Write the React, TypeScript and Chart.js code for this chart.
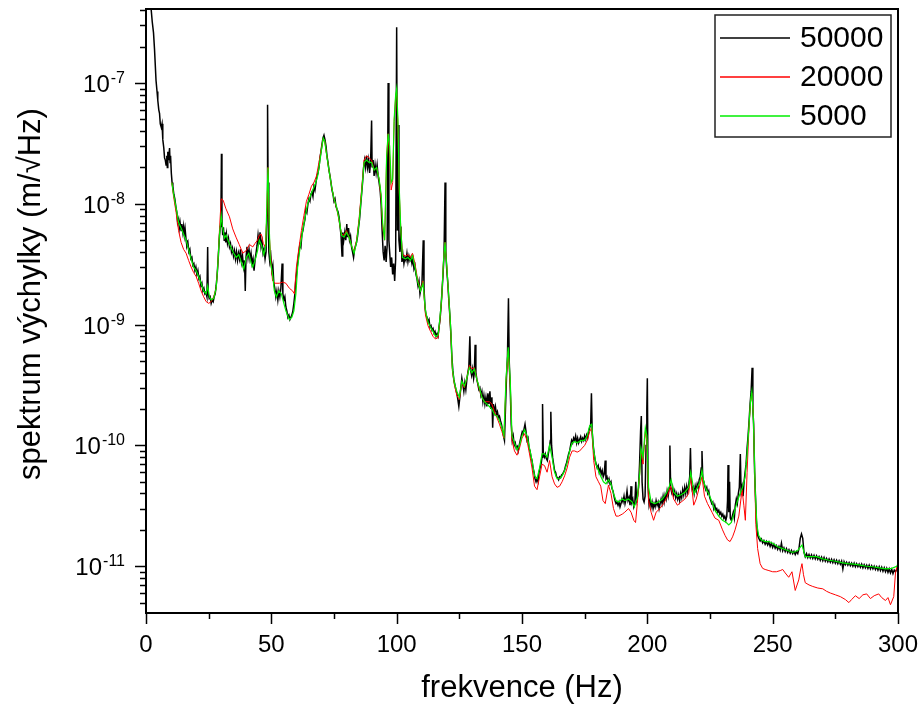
import React, { useEffect, useRef } from "react";
import { Chart, registerables } from "chart.js";

Chart.register(...registerables);

const FONT = "'Liberation Sans', Arial, sans-serif";

const seriesNames = ["50000", "20000", "5000"];
const seriesColors = ["#000000", "#ff0000", "#00ee00"];

const xTitle = "frekvence (Hz)";
const yTitle = "spektrum výchylky (m/√Hz)";

// x range (Hz) and y range (m/sqrt(Hz))
const xTickLabels = [0, 50, 100, 150, 200, 250, 300];
const yDecades = [-11, -10, -9, -8, -7];

// 50000 – frequency (Hz), amplitude
const s50000: [number, number][] = [
  [0.5, 1.2e-6], [1.2, 6.5e-7], [2, 4.2e-7], [2.5, 3.2e-7], [3, 2.6e-7], [3.4, 1.9e-7], [4, 1.05e-7], [4.4, 8.5e-8],
  [4.7, 7.2e-8], [5.1, 6.0e-8], [5.4, 5.6e-8], [5.7, 4.6e-8], [6.1, 4.3e-8], [6.4, 4.6e-8], [6.7, 3.4e-8], [7.1, 2.9e-8],
  [7.4, 2.4e-8], [7.7, 2.3e-8], [8.0, 2.1e-8], [8.3, 2.5e-8], [8.5, 2.0e-8], [8.7, 2.7e-8], [9.0, 2.3e-8], [9.4, 2.9e-8],
  [9.6, 2.2e-8], [9.8, 2.5e-8], [10.1, 1.8e-8], [10.4, 1.5e-8], [10.7, 1.4e-8], [11.1, 1.2e-8], [11.5, 1.1e-8], [11.9, 9.5e-9],
  [12.3, 8.5e-9], [12.6, 7.0e-9], [13.0, 7.5e-9], [13.3, 6.3e-9], [13.6, 7.0e-9], [14.0, 6.0e-9], [14.3, 6.8e-9], [14.7, 5.8e-9],
  [15.0, 6.5e-9], [15.3, 5.5e-9], [15.6, 6.2e-9], [16.0, 5.0e-9], [16.3, 4.5e-9], [16.7, 4.8e-9], [17.1, 4.0e-9], [17.5, 4.2e-9],
  [17.9, 3.5e-9], [18.3, 3.6e-9], [18.7, 3.1e-9], [19.1, 3.2e-9], [19.5, 2.8e-9], [19.9, 3.0e-9], [20.3, 2.6e-9], [20.7, 2.8e-9],
  [21.1, 2.4e-9], [21.5, 2.5e-9], [21.9, 2.1e-9], [22.3, 2.2e-9], [22.7, 1.9e-9], [23.1, 2.0e-9], [23.5, 1.8e-9], [23.9, 1.85e-9],
  [24.3, 1.7e-9], [24.6, 4.4e-9], [24.8, 1.8e-9], [25.2, 1.65e-9], [25.6, 1.7e-9], [26, 1.5e-9], [26.4, 1.6e-9], [26.8, 1.55e-9],
  [27.2, 1.7e-9], [27.6, 1.8e-9], [28, 2.1e-9], [28.4, 2.6e-9], [28.8, 3.5e-9], [29.2, 5.0e-9], [29.6, 6.5e-9], [29.9, 8.5e-9],
  [30.1, 2.6e-8], [30.3, 7.5e-9], [30.6, 5.5e-9], [30.9, 6.4e-9], [31.2, 5.0e-9], [31.5, 5.8e-9], [31.8, 4.8e-9], [32.1, 5.6e-9],
  [32.5, 4.7e-9], [32.9, 5.2e-9], [33.3, 4.4e-9], [33.7, 4.7e-9], [34.1, 4.0e-9], [34.5, 4.3e-9], [34.9, 3.7e-9], [35.3, 4.1e-9],
  [35.7, 3.5e-9], [36.1, 4.0e-9], [36.5, 3.4e-9], [36.9, 3.9e-9], [37.3, 3.5e-9], [37.7, 4.2e-9], [38.1, 3.3e-9], [38.5, 3.7e-9],
  [38.9, 3.0e-9], [39.3, 3.4e-9], [39.6, 1.9e-9], [39.9, 3.6e-9], [40.3, 4.4e-9], [40.7, 3.6e-9], [41.1, 4.2e-9], [41.5, 3.5e-9],
  [41.9, 3.9e-9], [42.3, 3.2e-9], [42.7, 3.5e-9], [43.1, 2.8e-9], [43.5, 3.4e-9], [43.9, 3.9e-9], [44.3, 4.5e-9], [44.7, 5.5e-9],
  [45.1, 4.6e-9], [45.5, 5.8e-9], [45.9, 4.4e-9], [46.3, 4.9e-9], [46.7, 3.9e-9], [47.1, 4.2e-9], [47.5, 3.5e-9], [47.9, 4.0e-9],
  [48.3, 9.0e-9], [48.5, 6.6e-8], [48.7, 1.5e-8], [49.0, 4.0e-9], [49.4, 3.3e-9], [49.8, 3.7e-9], [50.2, 2.8e-9], [50.6, 3.1e-9],
  [51.0, 2.2e-9], [51.4, 2.0e-9], [51.8, 1.7e-9], [52.2, 1.9e-9], [52.6, 1.6e-9], [53.0, 1.9e-9], [53.4, 1.7e-9], [53.8, 2.0e-9],
  [54.3, 3.2e-9], [54.6, 1.8e-9], [55.0, 1.6e-9], [55.4, 1.7e-9], [55.8, 1.4e-9], [56.2, 1.3e-9], [56.6, 1.15e-9], [57.0, 1.2e-9],
  [57.4, 1.1e-9], [57.8, 1.15e-9], [58.2, 1.2e-9], [58.6, 1.3e-9], [59.0, 1.5e-9], [59.4, 1.8e-9], [59.8, 2.4e-9], [60.2, 2.8e-9],
  [60.6, 3.4e-9], [61.0, 4.0e-9], [61.4, 4.6e-9], [61.8, 4.4e-9], [62.2, 5.6e-9], [62.6, 6.0e-9], [63.0, 6.8e-9], [63.4, 7.4e-9],
  [63.8, 9.0e-9], [64.2, 8.5e-9], [64.6, 1.0e-8], [65.0, 1.1e-8], [65.4, 1.05e-8], [65.8, 1.2e-8], [66.2, 1.25e-8], [66.6, 1.15e-8],
  [67.0, 1.4e-8], [67.4, 1.3e-8], [67.8, 1.5e-8], [68.2, 1.7e-8], [68.6, 1.8e-8], [69.0, 2.0e-8], [69.4, 2.4e-8], [69.8, 2.7e-8],
  [70.2, 3.1e-8], [70.6, 3.5e-8], [71.0, 3.7e-8], [71.4, 3.4e-8], [71.8, 3.0e-8], [72.2, 2.5e-8], [72.6, 2.2e-8], [73.0, 1.9e-8],
  [73.4, 1.7e-8], [73.8, 1.5e-8], [74.2, 1.3e-8], [74.6, 1.2e-8], [75.0, 1.05e-8], [75.4, 1.1e-8], [75.8, 9.5e-9], [76.2, 9.0e-9],
  [76.6, 8.6e-9], [77.0, 7.8e-9], [77.4, 6.5e-9], [77.8, 5.5e-9], [78.2, 3.7e-9], [78.5, 5.8e-9], [78.9, 5.0e-9], [79.3, 5.8e-9],
  [79.7, 5.0e-9], [80.1, 6.8e-9], [80.4, 5.3e-9], [80.8, 6.3e-9], [81.2, 5.0e-9], [81.6, 5.4e-9], [82.0, 4.4e-9], [82.4, 4.0e-9],
  [82.8, 3.6e-9], [83.2, 4.2e-9], [83.6, 4.5e-9], [84.0, 4.8e-9], [84.4, 5.4e-9], [84.8, 6.4e-9], [85.2, 7.5e-9], [85.6, 9.5e-9],
  [86.0, 1.2e-8], [86.4, 1.5e-8], [86.8, 2.0e-8], [87.2, 2.3e-8], [87.6, 2.0e-8], [88.0, 2.5e-8], [88.4, 2.0e-8], [88.8, 2.3e-8],
  [89.2, 1.8e-8], [89.6, 2.2e-8], [90.0, 4.9e-8], [90.2, 2.0e-8], [90.6, 2.3e-8], [91.0, 1.7e-8], [91.4, 2.1e-8], [91.8, 1.8e-8],
  [92.2, 2.1e-8], [92.6, 1.7e-8], [93.0, 1.5e-8], [93.4, 1.3e-8], [93.8, 1.0e-8], [94.2, 6.0e-9], [94.6, 4.0e-9], [95.0, 3.4e-9],
  [95.4, 4.5e-9], [95.8, 3.3e-9], [96.2, 4.5e-9], [96.6, 1.0e-7], [96.9, 5.0e-9], [97.2, 4.0e-9], [97.6, 3.0e-9], [98.0, 3.6e-9],
  [98.4, 2.6e-9], [98.8, 3.2e-9], [99.2, 2.3e-9], [99.6, 3.5e-9], [100.0, 2.9e-7], [100.3, 6.0e-9], [100.6, 4.5e-8], [100.9, 5.0e-9],
  [101.3, 4.0e-9], [101.7, 6.5e-9], [102.1, 3.3e-9], [102.5, 3.8e-9], [102.9, 3.2e-9], [103.3, 3.6e-9], [103.7, 3.4e-9], [104.1, 3.9e-9],
  [104.5, 3.3e-9], [104.9, 3.7e-9], [105.3, 3.4e-9], [105.7, 3.6e-9], [106.1, 3.2e-9], [106.5, 3.5e-9], [106.9, 2.9e-9], [107.3, 3.1e-9],
  [107.7, 2.6e-9], [108.1, 2.4e-9], [108.5, 2.1e-9], [108.9, 2.3e-9], [109.3, 1.8e-9], [109.7, 2.0e-9], [110.1, 2.2e-9], [110.6, 5.0e-9],
  [110.9, 2.0e-9], [111.3, 1.4e-9], [111.7, 1.2e-9], [112.1, 1.15e-9], [112.5, 1.05e-9], [112.9, 1.1e-9], [113.3, 9.5e-10], [113.7, 9.8e-10],
  [114.1, 9.0e-10], [114.5, 9.3e-10], [114.9, 8.5e-10], [115.3, 8.8e-10], [115.7, 8.0e-10], [116.1, 8.4e-10], [116.5, 8.0e-10], [116.9, 9.5e-10],
  [117.3, 1.1e-9], [117.7, 1.4e-9], [118.1, 1.9e-9], [118.5, 2.6e-9], [118.9, 3.8e-9], [119.3, 1.5e-8], [119.6, 4.0e-9], [120.0, 2.8e-9],
  [120.4, 2.2e-9], [120.8, 1.6e-9], [121.2, 1.2e-9], [121.6, 8.5e-10], [122.0, 5.5e-10], [122.4, 4.2e-10], [122.8, 3.5e-10], [123.2, 3.2e-10],
  [123.6, 2.9e-10], [124.0, 2.7e-10], [124.4, 2.4e-10], [124.8, 2.1e-10], [125.2, 2.5e-10], [125.6, 3.0e-10], [126.0, 3.6e-10], [126.4, 3.2e-10],
  [126.8, 2.8e-10], [127.2, 3.3e-10], [127.6, 2.9e-10], [128.0, 3.5e-10], [128.4, 4.0e-10], [128.8, 4.5e-10], [129.2, 8.0e-10], [129.5, 4.2e-10],
  [129.9, 3.8e-10], [130.3, 4.3e-10], [130.7, 3.6e-10], [131.0, 4.0e-10], [131.3, 6.8e-10], [131.6, 4.0e-10], [132.0, 3.5e-10], [132.4, 3.2e-10],
  [132.8, 2.9e-10], [133.2, 3.0e-10], [133.6, 2.6e-10], [134.0, 2.8e-10], [134.4, 2.3e-10], [134.8, 2.6e-10], [135.2, 2.2e-10], [135.6, 2.5e-10],
  [136.0, 2.1e-10], [136.4, 2.7e-10], [136.8, 2.2e-10], [137.2, 2.8e-10], [137.6, 2.0e-10], [138.0, 2.5e-10], [138.3, 1.4e-10], [138.6, 2.2e-10],
  [139.0, 1.9e-10], [139.4, 2.1e-10], [139.8, 1.8e-10], [140.2, 1.9e-10], [140.6, 1.7e-10], [141.0, 1.75e-10], [141.4, 1.6e-10], [141.8, 1.5e-10],
  [142.2, 1.35e-10], [142.6, 1.2e-10], [143.0, 1.1e-10], [143.4, 2.0e-10], [143.8, 3.6e-10], [144.2, 5.5e-10], [144.6, 1.65e-9], [144.9, 5.0e-10],
  [145.3, 3.0e-10], [145.7, 1.5e-10], [146.1, 1.1e-10], [146.5, 1.2e-10], [146.9, 1.0e-10], [147.3, 1.05e-10], [147.7, 9.5e-11], [148.1, 9.8e-11],
  [148.5, 9.0e-11], [148.9, 1.0e-10], [149.3, 1.1e-10], [149.7, 1.2e-10], [150.1, 1.3e-10], [150.5, 1.25e-10], [150.9, 1.4e-10], [151.2, 1.5e-10],
  [151.6, 1.3e-10], [152.0, 1.1e-10], [152.4, 1.15e-10], [152.8, 9.5e-11], [153.2, 9.0e-11], [153.6, 8.0e-11], [154.0, 7.5e-11], [154.4, 6.5e-11],
  [154.8, 6.0e-11], [155.2, 5.3e-11], [155.6, 5.0e-11], [156.0, 5.3e-11], [156.4, 5.0e-11], [156.8, 6.0e-11], [157.2, 6.5e-11], [157.6, 7.0e-11],
  [158.0, 8.0e-11], [158.2, 2.2e-10], [158.5, 8.5e-11], [158.9, 8.0e-11], [159.3, 8.5e-11], [159.7, 7.8e-11], [160.1, 7.5e-11], [160.5, 8.5e-11],
  [160.9, 9.5e-11], [161.3, 1.1e-10], [161.5, 1.9e-10], [161.8, 1.0e-10], [162.2, 8.0e-11], [162.6, 7.0e-11], [163.0, 6.2e-11], [163.4, 6.0e-11],
  [163.8, 5.5e-11], [164.2, 5.4e-11], [164.6, 5.2e-11], [165.0, 5.5e-11], [165.4, 5.4e-11], [165.8, 5.7e-11], [166.2, 5.8e-11], [166.6, 6.0e-11],
  [167.0, 6.3e-11], [167.4, 6.8e-11], [167.8, 7.2e-11], [168.2, 7.8e-11], [168.6, 8.5e-11], [169.0, 9.0e-11], [169.4, 1.0e-10], [169.8, 1.1e-10],
  [170.2, 1.05e-10], [170.6, 1.15e-10], [171.0, 1.1e-10], [171.4, 1.2e-10], [171.8, 1.05e-10], [172.2, 1.15e-10], [172.6, 1.05e-10], [173.0, 1.12e-10],
  [173.4, 1.18e-10], [173.8, 1.08e-10], [174.2, 1.15e-10], [174.6, 1.1e-10], [175.0, 1.2e-10], [175.4, 1.12e-10], [175.8, 1.22e-10], [176.2, 1.15e-10],
  [176.6, 1.3e-10], [177.0, 1.4e-10], [177.4, 1.5e-10], [177.7, 2.7e-10], [178.0, 1.3e-10], [178.4, 1.0e-10], [178.8, 8.5e-11], [179.2, 7.5e-11],
  [179.6, 7.0e-11], [180.0, 6.5e-11], [180.4, 6.8e-11], [180.8, 6.0e-11], [181.2, 6.4e-11], [181.6, 5.8e-11], [182.0, 6.2e-11], [182.4, 5.5e-11],
  [182.8, 5.8e-11], [183.2, 7.5e-11], [183.5, 5.3e-11], [183.9, 5.5e-11], [184.3, 5.0e-11], [184.7, 5.3e-11], [185.1, 4.8e-11], [185.5, 5.0e-11],
  [185.9, 4.4e-11], [186.3, 4.2e-11], [186.7, 3.8e-11], [187.1, 3.5e-11], [187.5, 3.3e-11], [187.9, 3.4e-11], [188.3, 3.2e-11], [188.7, 3.4e-11],
  [189.1, 3.1e-11], [189.5, 3.3e-11], [189.9, 3.6e-11], [190.3, 3.4e-11], [190.7, 3.8e-11], [191.1, 3.3e-11], [191.5, 3.6e-11], [191.9, 4.2e-11],
  [192.3, 3.5e-11], [192.7, 3.7e-11], [193.1, 3.2e-11], [193.5, 4.6e-11], [193.8, 3.4e-11], [194.2, 3.6e-11], [194.6, 3.1e-11], [195.0, 3.3e-11],
  [195.4, 5.0e-11], [195.7, 3.5e-11], [196.1, 3.8e-11], [196.5, 4.5e-11], [196.9, 7.0e-11], [197.3, 1.3e-10], [197.6, 1.75e-10], [197.9, 5.0e-11],
  [198.3, 3.6e-11], [198.7, 3.4e-11], [199.1, 3.8e-11], [199.5, 1.0e-10], [199.8, 2.0e-10], [200.0, 3.6e-10], [200.3, 4.5e-11], [200.7, 3.2e-11],
  [201.1, 3.5e-11], [201.5, 3.1e-11], [201.9, 3.4e-11], [202.3, 3.0e-11], [202.7, 3.3e-11], [203.1, 3.1e-11], [203.5, 3.5e-11], [203.9, 3.2e-11],
  [204.3, 3.4e-11], [204.7, 3.0e-11], [205.1, 3.3e-11], [205.5, 3.6e-11], [205.9, 3.3e-11], [206.3, 3.8e-11], [206.7, 3.4e-11], [207.1, 3.9e-11],
  [207.5, 3.6e-11], [207.9, 4.2e-11], [208.3, 3.8e-11], [208.7, 4.4e-11], [209.0, 1.0e-10], [209.3, 4.5e-11], [209.7, 4.1e-11], [210.1, 4.5e-11],
  [210.5, 3.9e-11], [210.9, 4.2e-11], [211.3, 3.7e-11], [211.7, 4.0e-11], [212.1, 3.6e-11], [212.5, 3.9e-11], [212.9, 3.5e-11], [213.3, 4.0e-11],
  [213.7, 3.7e-11], [214.1, 4.3e-11], [214.5, 3.9e-11], [214.9, 4.5e-11], [215.3, 4.0e-11], [215.7, 4.6e-11], [216.1, 4.1e-11], [216.5, 4.7e-11],
  [216.9, 5.5e-11], [217.2, 9.5e-11], [217.5, 5.0e-11], [217.9, 4.3e-11], [218.3, 4.5e-11], [218.7, 4.0e-11], [219.1, 4.6e-11], [219.5, 4.2e-11],
  [219.9, 4.8e-11], [220.3, 4.5e-11], [220.7, 5.2e-11], [221.1, 5.5e-11], [221.5, 6.5e-11], [221.8, 9.0e-11], [222.1, 5.5e-11], [222.5, 5.0e-11],
  [222.9, 4.6e-11], [223.3, 4.3e-11], [223.7, 4.5e-11], [224.1, 4.0e-11], [224.5, 4.2e-11], [224.9, 3.7e-11], [225.3, 3.5e-11], [225.7, 3.3e-11],
  [226.1, 3.4e-11], [226.5, 3.0e-11], [226.9, 3.2e-11], [227.3, 2.9e-11], [227.7, 3.0e-11], [228.1, 2.8e-11], [228.5, 2.9e-11], [228.9, 2.7e-11],
  [229.3, 2.8e-11], [229.7, 2.6e-11], [230.1, 2.7e-11], [230.5, 2.5e-11], [230.9, 2.6e-11], [231.3, 2.4e-11], [231.7, 2.6e-11], [232.0, 3.5e-11],
  [232.2, 6.9e-11], [232.5, 2.8e-11], [232.8, 5.0e-11], [233.1, 2.5e-11], [233.5, 2.4e-11], [233.9, 2.6e-11], [234.3, 2.8e-11], [234.7, 2.5e-11],
  [235.1, 3.2e-11], [235.5, 3.6e-11], [235.9, 3.3e-11], [236.3, 4.0e-11], [236.7, 4.5e-11], [237.1, 8.5e-11], [237.4, 4.2e-11], [237.8, 4.6e-11],
  [238.2, 3.8e-11], [238.6, 5.0e-11], [239.0, 6.0e-11], [239.4, 7.0e-11], [239.8, 9.5e-11], [240.2, 1.2e-10], [240.6, 1.6e-10], [241.0, 2.2e-10],
  [241.4, 2.8e-10], [241.8, 4.4e-10], [242.1, 2.0e-10], [242.4, 1.5e-10], [242.8, 6.0e-11], [243.1, 4.0e-11], [243.5, 2.4e-11], [243.9, 1.9e-11],
  [244.0, 1.8e-11], [244.5, 1.7e-11], [245, 1.62e-11], [245.5, 1.68e-11], [246, 1.56e-11], [246.5, 1.63e-11], [247, 1.52e-11], [247.5, 1.6e-11],
  [248, 1.5e-11], [248.5, 1.58e-11], [249, 1.46e-11], [249.5, 1.55e-11], [250, 1.43e-11], [250.5, 1.52e-11], [251, 1.41e-11], [251.5, 1.48e-11],
  [252, 1.38e-11], [252.5, 1.46e-11], [253, 1.36e-11], [253.5, 1.55e-11], [254, 1.34e-11], [254.5, 1.42e-11], [255, 1.32e-11], [255.5, 1.4e-11],
  [256, 1.3e-11], [256.5, 1.37e-11], [257, 1.28e-11], [257.5, 1.35e-11], [258, 1.27e-11], [258.5, 1.33e-11], [259, 1.25e-11], [259.5, 1.32e-11],
  [260, 1.27e-11], [260.5, 1.4e-11], [261, 1.7e-11], [261.5, 1.85e-11], [262, 1.7e-11], [262.5, 1.3e-11], [263, 1.2e-11], [263.5, 1.27e-11],
  [264, 1.18e-11], [264.5, 1.25e-11], [265, 1.17e-11], [265.5, 1.24e-11], [266, 1.16e-11], [266.5, 1.23e-11], [267, 1.15e-11], [267.5, 1.22e-11],
  [268, 1.14e-11], [268.5, 1.2e-11], [269, 1.12e-11], [269.5, 1.19e-11], [270, 1.11e-11], [270.5, 1.18e-11], [271, 1.1e-11], [271.5, 1.16e-11],
  [272, 1.09e-11], [272.5, 1.15e-11], [273, 1.08e-11], [273.5, 1.14e-11], [274, 1.07e-11], [274.5, 1.13e-11], [275, 1.06e-11], [275.5, 1.12e-11],
  [276, 1.05e-11], [276.5, 1.11e-11], [277, 1.04e-11], [277.5, 1.1e-11], [278, 9.5e-12], [278.5, 1.09e-11], [279, 1.03e-11], [279.5, 1.08e-11],
  [280, 1.02e-11], [280.5, 1.07e-11], [281, 1.01e-11], [281.5, 1.06e-11], [282, 1.0e-11], [282.5, 1.06e-11], [283, 9.9e-12], [283.5, 1.05e-11],
  [284, 9.9e-12], [284.5, 1.04e-11], [285, 9.8e-12], [285.5, 1.04e-11], [286, 9.7e-12], [286.5, 1.03e-11], [287, 9.7e-12], [287.5, 1.02e-11],
  [288, 9.6e-12], [288.5, 1.02e-11], [289, 9.5e-12], [289.5, 1.01e-11], [290, 9.5e-12], [290.5, 1.0e-11], [291, 9.4e-12], [291.5, 9.9e-12],
  [292, 9.3e-12], [292.5, 9.9e-12], [293, 9.2e-12], [293.5, 9.8e-12], [294, 9.1e-12], [294.5, 9.7e-12], [295, 9.0e-12], [295.5, 9.6e-12],
  [296, 8.9e-12], [296.5, 9.5e-12], [297, 8.8e-12], [297.5, 9.4e-12], [298, 8.7e-12], [298.5, 9.3e-12], [299, 9.0e-12], [299.5, 9.4e-12],
  [300, 9.3e-12],
];

// 20000
const s20000: [number, number][] = [
  [10.3, 1.5e-8], [11, 1.15e-8], [12, 8.5e-9], [13, 6.0e-9], [14, 4.8e-9], [15, 4.2e-9], [16, 3.9e-9], [17, 3.4e-9],
  [18, 3.0e-9], [19, 2.7e-9], [20, 2.5e-9], [21, 2.2e-9], [22, 1.9e-9], [23, 1.7e-9], [24, 1.55e-9], [25, 1.5e-9],
  [26, 1.55e-9], [27, 1.7e-9], [28, 2.0e-9], [28.6, 3.0e-9], [29.3, 6.0e-9], [30, 1.1e-8], [30.8, 1.07e-8], [31.8, 9.2e-9],
  [33.3, 7.8e-9], [34.6, 6.2e-9], [35.9, 5.3e-9], [37.2, 4.6e-9], [38.6, 3.9e-9], [40, 4.1e-9], [41.3, 4.6e-9], [42.6, 4.4e-9],
  [43.5, 4.7e-9], [44.5, 5.0e-9], [45.2, 5.5e-9], [46, 5.6e-9], [46.8, 4.7e-9], [47.6, 4.4e-9], [48.2, 8.0e-9], [48.7, 2.0e-8],
  [49.2, 5.5e-9], [50, 3.0e-9], [50.5, 2.3e-9], [51.5, 2.2e-9], [53.2, 2.2e-9], [54.5, 2.25e-9], [55.8, 2.2e-9], [57.2, 2.0e-9],
  [58.5, 1.9e-9], [59.2, 1.8e-9], [60, 3.0e-9], [61, 4.3e-9], [62, 6.0e-9], [63, 8.0e-9], [64, 1.05e-8], [65, 1.2e-8],
  [66, 1.4e-8], [67, 1.5e-8], [68, 1.7e-8], [69, 2.2e-8], [70, 2.9e-8], [70.7, 3.5e-8], [71.3, 3.3e-8], [72, 2.6e-8],
  [73, 1.9e-8], [74, 1.4e-8], [75, 1.1e-8], [76, 9.3e-9], [77, 7.3e-9], [78, 5.6e-9], [79, 5.5e-9], [80, 6.0e-9],
  [81, 5.3e-9], [82, 4.5e-9], [83, 4.0e-9], [84, 5.0e-9], [85, 7.5e-9], [86, 1.3e-8], [87, 2.3e-8], [88, 2.5e-8],
  [89, 2.4e-8], [90, 2.3e-8], [91, 1.9e-8], [92, 2.0e-8], [93, 1.6e-8], [93.8, 1.1e-8], [94.4, 6.5e-9], [95.2, 5.0e-9],
  [96, 2.4e-8], [96.6, 3.8e-8], [97.2, 2.5e-8], [97.8, 1.3e-8], [98.4, 1.5e-8], [99, 4.8e-8], [99.6, 7.8e-8], [100, 8.5e-8],
  [100.5, 4.5e-8], [101, 1.3e-8], [101.6, 6.5e-9], [102.3, 3.8e-9], [103.5, 3.7e-9], [104.5, 3.8e-9], [105.5, 3.6e-9], [106.3, 3.9e-9],
  [107.3, 3.2e-9], [108.3, 2.4e-9], [109.5, 1.9e-9], [110.5, 2.3e-9], [111.5, 1.2e-9], [112.5, 9.8e-10], [113.5, 8.8e-10], [114.5, 8.0e-10],
  [115.5, 7.6e-10], [116.5, 7.8e-10], [117.2, 1.05e-9], [118, 1.7e-9], [118.7, 3.4e-9], [119.3, 4.8e-9], [120, 3.0e-9], [120.8, 1.6e-9],
  [121.6, 8.5e-10], [122.2, 4.2e-10], [123, 3.2e-10], [124, 2.6e-10], [125, 2.4e-10], [126, 3.3e-10], [127, 3.0e-10], [128, 3.6e-10],
  [129, 4.6e-10], [130, 4.3e-10], [131, 4.4e-10], [132, 3.5e-10], [133, 2.9e-10], [134, 2.5e-10], [135, 2.3e-10], [136, 2.3e-10],
  [137, 2.3e-10], [138, 2.2e-10], [139, 1.9e-10], [140, 1.7e-10], [141, 1.5e-10], [142, 1.3e-10], [142.8, 1.15e-10], [143.6, 3.3e-10],
  [144.5, 6.0e-10], [145.3, 3.2e-10], [146, 1.1e-10], [147, 9.0e-11], [148, 8.3e-11], [149, 9.5e-11], [150, 1.15e-10], [151, 1.25e-10],
  [152, 1.1e-10], [153, 8.5e-11], [154, 6.5e-11], [155, 4.6e-11], [156, 4.3e-11], [157, 5.5e-11], [158, 7.0e-11], [159, 6.8e-11],
  [160, 6.0e-11], [161, 7.5e-11], [162, 5.5e-11], [163, 4.8e-11], [164, 4.5e-11], [165, 4.6e-11], [166, 5.0e-11], [167, 5.6e-11],
  [168, 6.5e-11], [169, 8.0e-11], [170, 9.0e-11], [171, 9.0e-11], [172, 8.8e-11], [173, 9.0e-11], [174, 9.5e-11], [175, 1.0e-10],
  [176, 1.1e-10], [177, 1.3e-10], [177.8, 1.4e-10], [178.6, 7.5e-11], [179.5, 5.5e-11], [180.5, 5.0e-11], [181.4, 4.6e-11], [182.3, 3.5e-11],
  [183.2, 3.3e-11], [184.5, 4.7e-11], [185.5, 4.0e-11], [186.5, 3.0e-11], [187.5, 2.6e-11], [188.5, 2.6e-11], [190, 2.7e-11], [191, 2.8e-11],
  [192.5, 3.0e-11], [193.5, 2.8e-11], [194.6, 2.4e-11], [195.3, 2.3e-11], [196, 3.3e-11], [197, 6.0e-11], [197.5, 9.0e-11], [198.3, 7.0e-11],
  [199.2, 1.3e-10], [199.8, 1.1e-10], [200.5, 3.5e-11], [201.5, 2.8e-11], [202.5, 2.4e-11], [203.5, 2.8e-11], [205, 3.0e-11], [206.5, 3.3e-11],
  [208, 3.8e-11], [209.3, 4.6e-11], [210.5, 3.6e-11], [212, 3.2e-11], [213.5, 3.4e-11], [215, 3.6e-11], [216.5, 4.0e-11], [217.3, 5.5e-11],
  [218.5, 3.2e-11], [219.5, 3.6e-11], [220.5, 4.3e-11], [221.8, 5.5e-11], [222.8, 3.8e-11], [224, 3.3e-11], [225.8, 2.8e-11], [227, 2.5e-11],
  [228.5, 2.4e-11], [230, 2.0e-11], [231, 1.8e-11], [232, 1.65e-11], [233, 1.6e-11], [234, 1.75e-11], [235, 2.0e-11], [236.5, 2.6e-11],
  [237.8, 4.3e-11], [238.5, 3.2e-11], [239.1, 2.4e-11], [239.8, 6.0e-11], [240.6, 1.5e-10], [241.2, 2.3e-10], [241.7, 2.7e-10], [242.3, 1.8e-10],
  [242.8, 6.0e-11], [243.3, 2.2e-11], [244, 1.4e-11], [245, 1.05e-11], [246, 9.6e-12], [247, 9.4e-12], [248.5, 9.2e-12], [250, 9.0e-12],
  [251.5, 9.0e-12], [253, 9.2e-12], [254, 9.4e-12], [255, 8.8e-12], [256.4, 8.1e-12], [257.7, 9.0e-12], [259, 6.3e-12], [260.4, 7.7e-12],
  [261.2, 9.5e-12], [261.7, 1.05e-11], [262.3, 8.5e-12], [263, 7.3e-12], [264.5, 7.0e-12], [266, 6.8e-12], [268, 6.6e-12], [270, 6.5e-12],
  [271.5, 6.2e-12], [273, 6.0e-12], [275, 5.8e-12], [277, 5.6e-12], [279, 5.3e-12], [280.4, 5.0e-12], [281.5, 5.3e-12], [283, 5.7e-12],
  [284.5, 5.4e-12], [286, 5.8e-12], [287.5, 5.9e-12], [289, 5.4e-12], [290.5, 5.7e-12], [292.3, 5.9e-12], [293.5, 5.5e-12], [295, 5.2e-12],
  [296, 5.5e-12], [297, 4.8e-12], [298.3, 5.6e-12], [299, 8.8e-12], [299.6, 1.0e-11],
];

// 5000
const s5000: [number, number][] = [
  [10.3, 1.5e-8], [11, 1.2e-8], [12, 9.3e-9], [13, 7.0e-9], [14, 6.3e-9], [15, 5.6e-9], [16, 5.0e-9], [17, 4.2e-9],
  [18, 3.5e-9], [19, 3.0e-9], [20, 2.8e-9], [21, 2.5e-9], [22, 2.2e-9], [23, 1.9e-9], [24, 1.8e-9], [24.6, 2.1e-9],
  [25.3, 1.7e-9], [26, 1.6e-9], [27, 1.65e-9], [28, 2.0e-9], [28.6, 3.0e-9], [29.3, 5.5e-9], [30, 8.0e-9], [30.5, 6.5e-9],
  [31.3, 5.2e-9], [32, 5.5e-9], [33, 4.8e-9], [34, 4.3e-9], [35, 3.9e-9], [36, 3.6e-9], [37, 3.8e-9], [38, 3.3e-9],
  [39, 2.9e-9], [40, 3.6e-9], [41, 3.9e-9], [42, 3.2e-9], [42.6, 3.0e-9], [43.5, 3.4e-9], [44.5, 4.1e-9], [45.2, 5.0e-9],
  [46, 4.6e-9], [47, 3.8e-9], [47.8, 4.5e-9], [48.3, 1.2e-8], [48.7, 2.0e-8], [49.2, 6.0e-9], [49.6, 3.4e-9], [50.5, 2.6e-9],
  [51.2, 1.9e-9], [52, 1.7e-9], [53, 1.9e-9], [54, 1.8e-9], [55, 1.5e-9], [55.8, 1.3e-9], [57.2, 1.1e-9], [58.2, 1.15e-9],
  [59, 1.3e-9], [59.8, 1.8e-9], [60.5, 3.0e-9], [61.5, 4.4e-9], [62.5, 6.0e-9], [63.5, 7.8e-9], [64.5, 1.0e-8], [65.5, 1.15e-8],
  [66.5, 1.3e-8], [67.5, 1.45e-8], [68.5, 1.7e-8], [69.3, 2.2e-8], [70, 2.8e-8], [70.7, 3.5e-8], [71.3, 3.3e-8], [72, 2.6e-8],
  [73, 1.9e-8], [74, 1.4e-8], [75, 1.1e-8], [76, 9.5e-9], [77, 7.5e-9], [78, 5.5e-9], [79, 5.3e-9], [80, 5.8e-9],
  [81, 5.3e-9], [82, 4.5e-9], [83, 3.9e-9], [84, 4.8e-9], [85, 7.0e-9], [86, 1.2e-8], [87, 2.2e-8], [88, 2.3e-8],
  [89, 2.2e-8], [90, 2.2e-8], [91, 1.9e-8], [92, 2.0e-8], [93, 1.6e-8], [93.8, 1.2e-8], [94.4, 7.0e-9], [95.2, 5.0e-9],
  [96, 2.5e-8], [96.6, 3.8e-8], [97.2, 3.0e-8], [97.8, 1.5e-8], [98.4, 1.6e-8], [99, 5.0e-8], [99.6, 8.0e-8], [100, 9.0e-8],
  [100.5, 5.0e-8], [101, 1.4e-8], [101.6, 6.5e-9], [102.3, 3.6e-9], [103.5, 3.5e-9], [104.5, 3.6e-9], [105.5, 3.4e-9], [106.3, 3.7e-9],
  [107.3, 3.0e-9], [108.3, 2.3e-9], [109.5, 1.9e-9], [110.5, 2.2e-9], [111.5, 1.3e-9], [112.5, 1.05e-9], [113.5, 9.5e-10], [114.5, 8.8e-10],
  [115.5, 8.0e-10], [116.5, 8.2e-10], [117.2, 1.1e-9], [118, 1.7e-9], [118.7, 3.4e-9], [119.3, 4.8e-9], [120, 3.0e-9], [120.8, 1.7e-9],
  [121.6, 9.0e-10], [122.2, 4.4e-10], [123, 3.3e-10], [124, 2.8e-10], [125, 2.5e-10], [126, 3.4e-10], [127, 3.1e-10], [128, 3.6e-10],
  [129, 4.4e-10], [130, 4.0e-10], [131, 4.3e-10], [132, 3.5e-10], [133, 3.0e-10], [134, 2.5e-10], [135, 2.3e-10], [136, 2.2e-10],
  [137, 2.1e-10], [138, 2.0e-10], [139, 1.8e-10], [140, 1.75e-10], [141, 1.6e-10], [142, 1.4e-10], [142.8, 1.2e-10], [143.6, 3.5e-10],
  [144.5, 6.5e-10], [145.3, 3.5e-10], [146, 1.2e-10], [147, 1.05e-10], [148, 9.2e-11], [149, 1.0e-10], [150, 1.2e-10], [151, 1.35e-10],
  [152, 1.2e-10], [153, 9.5e-11], [154, 7.5e-11], [155, 5.6e-11], [156, 5.3e-11], [157, 6.5e-11], [158, 8.5e-11], [159, 8.5e-11],
  [160, 8.0e-11], [161, 1.0e-10], [162, 8.0e-11], [163, 6.0e-11], [164, 5.3e-11], [165, 5.3e-11], [166, 5.6e-11], [167, 6.2e-11],
  [168, 7.2e-11], [169, 9.0e-11], [170, 1.05e-10], [171, 1.08e-10], [172, 1.05e-10], [173, 1.08e-10], [174, 1.1e-10], [175, 1.1e-10],
  [176, 1.2e-10], [177, 1.45e-10], [177.8, 1.5e-10], [178.6, 9.0e-11], [179.5, 7.0e-11], [180.5, 6.2e-11], [181.5, 5.5e-11], [182.5, 5.0e-11],
  [183.5, 4.8e-11], [184.5, 5.2e-11], [185.5, 4.8e-11], [186.5, 4.0e-11], [187.5, 3.5e-11], [188.5, 3.4e-11], [190, 3.6e-11], [191, 3.5e-11],
  [192.5, 3.6e-11], [194, 3.4e-11], [194.8, 3.1e-11], [196, 3.7e-11], [197, 6.0e-11], [197.5, 9.5e-11], [198.3, 8.0e-11], [199.2, 1.4e-10],
  [199.8, 1.2e-10], [200.5, 4.5e-11], [201.5, 3.4e-11], [203, 3.3e-11], [204.5, 3.4e-11], [206, 3.6e-11], [207.5, 4.0e-11], [208.8, 4.6e-11],
  [209.5, 5.2e-11], [210.5, 4.1e-11], [212, 3.8e-11], [213.5, 3.9e-11], [215, 4.1e-11], [216.5, 4.5e-11], [217.3, 6.0e-11], [218, 5.0e-11],
  [218.7, 4.0e-11], [220, 4.5e-11], [221, 5.0e-11], [221.8, 6.2e-11], [222.5, 5.0e-11], [223.5, 4.3e-11], [224.5, 4.0e-11], [225.8, 3.4e-11],
  [227, 2.9e-11], [228.5, 2.6e-11], [230, 2.4e-11], [231.5, 2.3e-11], [232.5, 2.2e-11], [233.5, 2.3e-11], [234.5, 2.7e-11], [235.8, 3.4e-11],
  [237, 4.0e-11], [238, 4.5e-11], [239, 5.5e-11], [239.8, 8.5e-11], [240.6, 1.5e-10], [241.2, 2.4e-10], [241.7, 2.8e-10], [242.3, 1.7e-10],
  [243, 4.5e-11], [243.7, 2.2e-11], [244.4, 1.8e-11], [245.5, 1.65e-11], [247, 1.6e-11], [248.5, 1.6e-11], [250, 1.55e-11], [252, 1.45e-11],
  [254, 1.4e-11], [256, 1.35e-11], [258, 1.3e-11], [260, 1.35e-11], [261.7, 1.5e-11], [263, 1.2e-11], [265, 1.2e-11], [267.5, 1.2e-11],
  [270, 1.15e-11], [272.5, 1.12e-11], [275, 1.1e-11], [277.5, 1.07e-11], [280, 1.05e-11], [282.5, 1.04e-11], [285, 1.02e-11], [287.5, 1.0e-11],
  [290, 9.9e-12], [292.5, 9.7e-12], [295, 9.5e-12], [297.5, 9.6e-12], [299.5, 1.0e-11], [300, 1.05e-11],
];

const allSeries = [s50000, s20000, s5000];

const X_MIN = 0;
const X_MAX = 300;
const Y_MIN = 4.1e-12;
const Y_MAX = 4.1e-7;

const axesPlugin = {
  id: "originAxes",
  afterDraw(chart: any) {
    const { ctx, chartArea: a, scales } = chart;
    const xs = scales.x;
    const ys = scales.y;
    ctx.save();
    ctx.strokeStyle = "#000";
    ctx.lineWidth = 2;
    ctx.strokeRect(a.left, a.top, a.right - a.left, a.bottom - a.top);

    // y ticks (outward)
    ctx.lineWidth = 1.5;
    ctx.beginPath();
    for (let e = -12; e <= -6; e++) {
      for (let m = 1; m <= 9; m++) {
        const v = m * Math.pow(10, e);
        if (v < Y_MIN || v > Y_MAX) continue;
        const py = Math.round(ys.getPixelForValue(v)) + 0.5;
        const len = m === 1 ? 11 : 6;
        ctx.moveTo(a.left - len, py);
        ctx.lineTo(a.left, py);
      }
    }
    // x ticks (outward)
    for (let v = X_MIN; v <= X_MAX; v += 25) {
      const px = Math.round(xs.getPixelForValue(v)) + 0.5;
      const len = v % 50 === 0 ? 11 : 6;
      ctx.moveTo(px, a.bottom);
      ctx.lineTo(px, a.bottom + len);
    }
    ctx.stroke();

    // y tick labels 10^n
    ctx.fillStyle = "#000";
    ctx.textBaseline = "alphabetic";
    ctx.textAlign = "right";
    const rightEdge = a.left - 21;
    yDecades.forEach((d) => {
      const py = ys.getPixelForValue(Math.pow(10, d));
      const sup = String(d);
      ctx.font = `16px ${FONT}`;
      const sw = ctx.measureText(sup).width;
      ctx.fillText(sup, rightEdge, py);
      ctx.font = `24px ${FONT}`;
      ctx.fillText("10", rightEdge - sw - 1, py + 9);
    });

    // y axis title
    ctx.save();
    ctx.translate(31, 294);
    ctx.rotate(-Math.PI / 2);
    ctx.font = `31px ${FONT}`;
    ctx.textAlign = "center";
    ctx.textBaseline = "middle";
    ctx.fillText(yTitle, 0, 0);
    ctx.restore();

    // legend
    const lx = 715;
    const ly = 15;
    const lw = 176;
    const lh = 122;
    ctx.fillStyle = "#fff";
    ctx.fillRect(lx, ly, lw, lh);
    ctx.strokeStyle = "#222";
    ctx.lineWidth = 1.5;
    ctx.strokeRect(lx, ly, lw, lh);
    ctx.font = `30px ${FONT}`;
    ctx.textAlign = "left";
    ctx.textBaseline = "middle";
    seriesNames.forEach((name, i) => {
      const yy = 38 + i * 39;
      ctx.strokeStyle = seriesColors[i];
      ctx.lineWidth = 1.5;
      ctx.beginPath();
      ctx.moveTo(720, yy);
      ctx.lineTo(790, yy);
      ctx.stroke();
      ctx.fillStyle = "#000";
      ctx.fillText(name, 800, yy + 1);
    });
    ctx.restore();
  },
};

export default function App() {
  const ref = useRef<HTMLCanvasElement | null>(null);

  useEffect(() => {
    if (!ref.current) return;
    const widths = [1.5, 1, 1.2];
    const chart = new Chart(ref.current, {
      type: "line",
      data: {
        datasets: allSeries.map((s, i) => ({
          label: seriesNames[i],
          data: s.map(([x, y]) => ({ x, y })),
          borderColor: seriesColors[i],
          backgroundColor: seriesColors[i],
          borderWidth: widths[i],
          pointRadius: 0,
          tension: 0,
          fill: false,
          order: 3 - i,
        })),
      },
      options: {
        animation: false,
        responsive: true,
        maintainAspectRatio: false,
        layout: { padding: { top: 9, right: 22, left: 0, bottom: 0 } },
        plugins: { legend: { display: false }, tooltip: { enabled: false } },
        scales: {
          x: {
            type: "linear",
            min: X_MIN,
            max: X_MAX,
            grid: { display: false, drawTicks: false },
            border: { display: false },
            afterFit: (s: any) => {
              s.height = 94;
              s.paddingLeft = 0;
              s.paddingRight = 0;
            },
            afterBuildTicks: (s: any) => {
              s.ticks = xTickLabels.map((v) => ({ value: v }));
            },
            ticks: {
              autoSkip: false,
              maxRotation: 0,
              padding: 18,
              color: "#000",
              font: { family: FONT, size: 24 },
            },
            title: {
              display: true,
              text: xTitle,
              color: "#000",
              font: { family: FONT, size: 31, lineHeight: 1.2 },
              padding: { top: 0, bottom: 0 },
            },
          },
          y: {
            type: "logarithmic",
            min: Y_MIN,
            max: Y_MAX,
            grid: { display: false, drawTicks: false },
            border: { display: false },
            ticks: { display: false },
            afterFit: (s: any) => {
              s.width = 146;
              s.paddingTop = 0;
              s.paddingBottom = 0;
            },
            title: { display: false },
          },
        },
      },
      plugins: [axesPlugin],
    });
    return () => chart.destroy();
  }, []);

  return (
    <div style={{ position: "absolute", left: 0, top: 0, width: 920, height: 707, background: "#fff" }}>
      <canvas ref={ref} />
    </div>
  );
}
